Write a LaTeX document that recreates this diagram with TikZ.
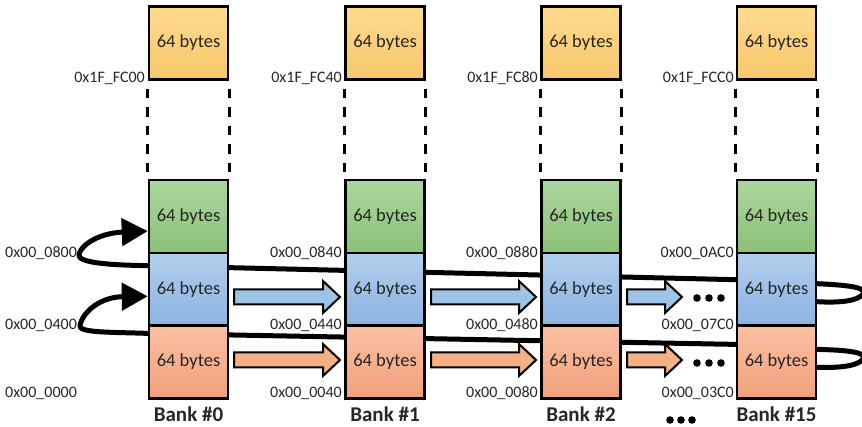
\documentclass[tikz,border=0pt]{standalone}
\usepackage{fontspec}
\setmainfont{Carlito}
\usetikzlibrary{arrows.meta,calc}
\pgfdeclarelayer{bg}
\pgfsetlayers{bg,main}
\definecolor{txt}{HTML}{262626}
\definecolor{orT}{HTML}{FFDA8E}
\definecolor{orB}{HTML}{F7C76C}
\definecolor{grT}{HTML}{ADD69E}
\definecolor{grB}{HTML}{8AC077}
\definecolor{blT}{HTML}{B2CEEC}
\definecolor{blB}{HTML}{8CB3E1}
\definecolor{rdT}{HTML}{FAC0A4}
\definecolor{rdB}{HTML}{F29F7B}
\definecolor{blA}{HTML}{9DC3E6}
\definecolor{rdA}{HTML}{F4B183}
\newcommand\blockarrow[4]{%
  \draw[barrowline, fill=#4] (#1,#3-7.5) -- (#2-17,#3-7.5) -- (#2-17,#3-16) -- (#2,#3)
    -- (#2-17,#3+16) -- (#2-17,#3+7.5) -- (#1,#3+7.5) -- cycle;}
\begin{document}
\begin{tikzpicture}[x=1pt,y=-1pt,
  box/.style={draw=black, line width=2.5pt, minimum width=79pt, minimum height=72.7pt,
    inner sep=0pt, font=\fontsize{18.5}{20}\selectfont, text=txt},
  orbox/.style={box, top color=orT, bottom color=orB},
  grbox/.style={box, top color=grT, bottom color=grB},
  blbox/.style={box, top color=blT, bottom color=blB},
  rdbox/.style={box, top color=rdT, bottom color=rdB},
  addr/.style={font=\fontsize{16}{18}\selectfont, text=txt, inner sep=0pt},
  banklbl/.style={font=\bfseries\fontsize{21}{24}\selectfont, text=txt, inner sep=0pt, anchor=base},
  dashline/.style={line width=3pt, dash pattern=on 9.5pt off 9pt, dash phase=10.5pt},
  loopline/.style={line width=5pt, line join=round, line cap=round},
  barrowline/.style={draw=black, line width=2pt, line join=miter},
  dot/.style={fill=black}
]
\useasboundingbox (0,0) rectangle (862,427);

% bank columns
\foreach \i/\x in {0/188.5, 1/385, 2/581, 3/776.5}{
  \node[orbox] (o\i) at (\x,43) {64 bytes};
  \node[grbox] (g\i) at (\x,216.6) {64 bytes};
  \node[blbox] (b\i) at (\x,289.3) {64 bytes};
  \node[rdbox] (r\i) at (\x,362) {64 bytes};
  \draw[dashline] (o\i.south west) -- (g\i.north west);
  \draw[dashline] (o\i.south east) -- (g\i.north east);
}

% bank labels
\node[banklbl] (k0) at (188.5,421) {Bank \#0};
\node[banklbl] (k1) at (385,421) {Bank \#1};
\node[banklbl] (k2) at (581,421) {Bank \#2};
\node[banklbl] (k3) at (776.5,421) {Bank \#15};

% top addresses
\node[addr, anchor=base east] (t0) at (145,83) {0x1F\_FC00};
\node[addr, anchor=base east] (t1) at (342,83) {0x1F\_FC40};
\node[addr, anchor=base east] (t2) at (538,83) {0x1F\_FC80};
\node[addr, anchor=base east] (t3) at (734,83) {0x1F\_FCC0};

% bank 0 addresses
\node[addr, anchor=base west] (a08) at (5,258) {0x00\_0800};
\node[addr, anchor=base west] (a04) at (5,330) {0x00\_0400};
\node[addr, anchor=base west] (a00) at (5,398) {0x00\_0000};
% bank 1
\node[addr, anchor=base east] (a18) at (342,258) {0x00\_0840};
\node[addr, anchor=base east] (a14) at (342,330) {0x00\_0440};
\node[addr, anchor=base east] (a10) at (342,398) {0x00\_0040};
% bank 2
\node[addr, anchor=base east] (a28) at (538,258) {0x00\_0880};
\node[addr, anchor=base east] (a24) at (538,330) {0x00\_0480};
\node[addr, anchor=base east] (a20) at (538,398) {0x00\_0080};
% bank 15
\node[addr, anchor=base east] (a38) at (734,258) {0x00\_0AC0};
\node[addr, anchor=base east] (a34) at (734,330) {0x00\_07C0};
\node[addr, anchor=base east] (a30) at (734,398) {0x00\_03C0};

% block arrows
\foreach \xa/\xb in {234/340, 431/536, 627/682}{
  \blockarrow{\xa}{\xb}{297}{blA}
  \blockarrow{\xa}{\xb}{360}{rdA}
}

% dots
\foreach \y in {298,363}{
  \foreach \x in {697,709,721}{ \fill[dot] (\x,\y) circle (3.8pt); }
}
\foreach \x in {670,681,692}{ \fill[dot] (\x,420) circle (3.8pt); }

% loop connectors (behind the boxes)
\begin{pgfonlayer}{bg}
\draw[loopline, -{Triangle[length=26pt,width=27pt]}]
  ([yshift=-50pt]b3.north east) .. controls (840,303) and (858,301) .. (863,294)
  .. controls (868,287) and (845,285) .. ([yshift=-32pt]b3.north east)
  -- ([yshift=-28pt]b3.north west)
  -- ([yshift=-14pt]b0.north west)
  .. controls (110,265) and (76,263) .. (79,254)
  .. controls (82,244) and (100,233) .. ([yshift=-14.5pt]g0.west);
\draw[loopline, -{Triangle[length=26pt,width=27pt]}]
  ([yshift=-43pt]r3.north east) .. controls (840,368) and (858,366) .. (863,359)
  .. controls (868,352) and (845,350) .. ([yshift=-25pt]r3.north east)
  -- ([yshift=-20pt]r3.north west)
  -- ([yshift=-9pt]r0.north west)
  .. controls (110,332) and (77,333) .. (80,325)
  .. controls (83,312) and (100,297) .. ([yshift=-7pt]b0.west);
\end{pgfonlayer}
\end{tikzpicture}
\end{document}
